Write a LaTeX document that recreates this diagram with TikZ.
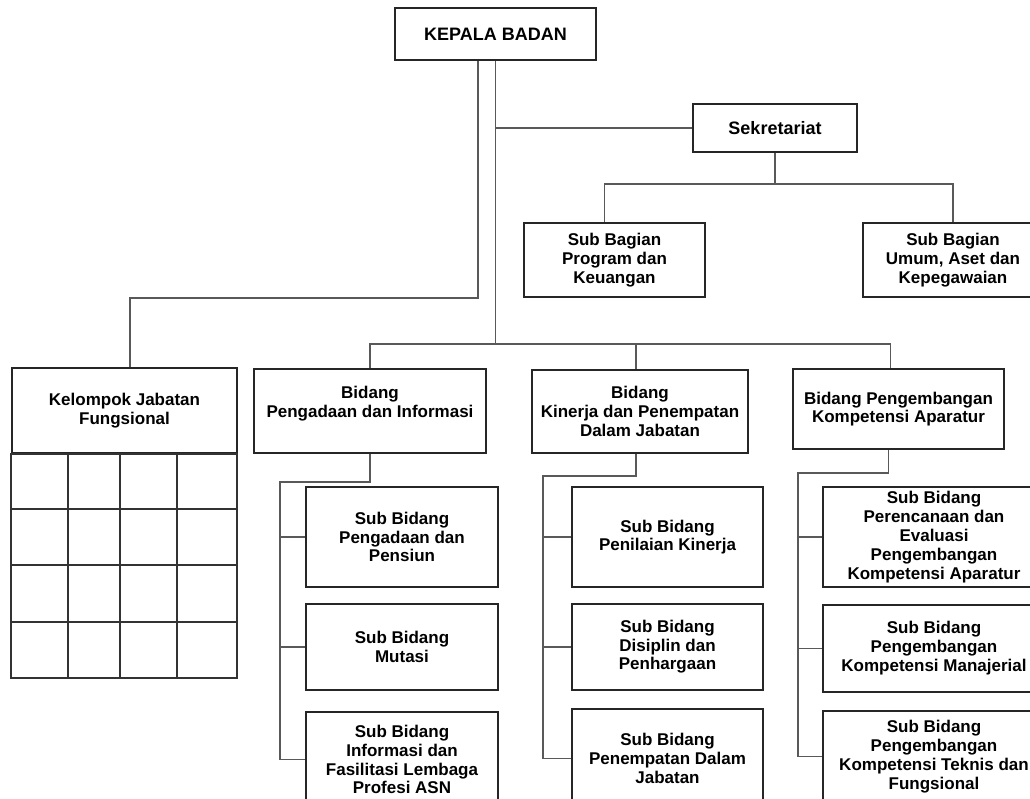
\documentclass[tikz,border=0pt]{standalone}
\usepackage{fontspec}
\setmainfont{Liberation Sans}
\usetikzlibrary{positioning}

\begin{document}
\begin{tikzpicture}[x=1pt,y=-1pt,node distance=16pt,
    org box/.style={draw=black!85,line width=1.8pt,align=center,inner sep=2pt,
      font=\fontsize{17}{18.8}\selectfont\bfseries},
    head box/.style={org box,font=\fontsize{18}{21}\selectfont\bfseries},
    sub box/.style={org box,minimum width=#1,minimum height=100pt},
    link/.style={draw=black!65,line width=1.4pt},
    grid line/.style={draw=black!80,line width=1.4pt}]

\useasboundingbox (0,0) rectangle (1030,798);
\clip (0,0) rectangle (1030,798);

\node[head box,minimum width=201pt,minimum height=52pt] (kepala) at (495.5,34) {KEPALA BADAN};
\node[head box,minimum width=164pt,minimum height=48pt] (sekre) at (775,128) {Sekretariat};
\node[org box,minimum width=181pt,minimum height=74pt] (subprog) at (614.5,260) {Sub Bagian\\Program dan\\Keuangan};
\node[org box,minimum width=180pt,minimum height=74pt] (subumum) at (953,260) {Sub Bagian\\Umum, Aset dan\\Kepegawaian};

\node[org box,minimum width=225pt,minimum height=85pt] (jab) at (124.5,410.5) {Kelompok Jabatan\\Fungsional};
\node[org box,minimum width=232pt,minimum height=84pt] (bid1) at (370,411) {Bidang\\Pengadaan dan Informasi\\\mbox{}};
\node[org box,minimum width=216pt,minimum height=83pt] (bid2) at (640,411.5) {Bidang\\Kinerja dan Penempatan\\Dalam Jabatan};
\node[org box,minimum width=211pt,minimum height=80pt] (bid3) at (898.5,409) {Bidang Pengembangan\\Kompetensi Aparatur};

\node[sub box=192pt] (sub11) at (402,537) {Sub Bidang\\Pengadaan dan\\Pensiun};
\node[sub box=192pt,minimum height=86pt] (sub12) [below=15pt of sub11] {Sub Bidang\\Mutasi};
\node[sub box=192pt,minimum height=96pt] (sub13) [below=20pt of sub12] {Sub Bidang\\Informasi dan\\Fasilitasi Lembaga\\Profesi ASN};

\node[sub box=191pt] (sub21) at (667.5,537) {Sub Bidang\\Penilaian Kinerja};
\node[sub box=191pt,minimum height=86pt] (sub22) [below=15pt of sub21] {Sub Bidang\\Disiplin dan\\Penhargaan};
\node[sub box=191pt] (sub23) [below=17pt of sub22] {Sub Bidang\\Penempatan Dalam\\Jabatan};

\node[sub box=222pt] (sub31) at (934,537) {Sub Bidang\\Perencanaan dan\\Evaluasi\\Pengembangan\\Kompetensi Aparatur};
\node[sub box=222pt,minimum height=87pt] (sub32) [below=16pt of sub31] {Sub Bidang\\Pengembangan\\Kompetensi Manajerial};
\node[sub box=222pt,minimum height=92pt] (sub33) [below=17pt of sub32] {Sub Bidang\\Pengembangan\\Kompetensi Teknis dan\\Fungsional};

\draw[grid line] (jab.south west) rectangle (237,678);
\foreach \x in {68,120,177}
  \draw[grid line] (\x,453) -- (\x,678);
\foreach \y in {509,565,622}
  \draw[grid line] (12,\y) -- (237,\y);

\draw[link] (kepala.south) -- ++(0,283) coordinate (bidbar);
\draw[link] ([xshift=-17.5pt]kepala.south) -- ++(0,237) -| ([xshift=5.5pt]jab.north);
\draw[link] (kepala.south |- sekre.west) -- (sekre.west);
\draw[link] (sekre.south) -- ++(0,31) coordinate (sbar);
\draw[link] ([xshift=-10pt]subprog.north) |- (sbar) -| (subumum.north);

\draw[link] (bid1.north) |- (bidbar) -| ([xshift=-8pt]bid3.north);
\draw[link] (bidbar) -| ([xshift=-4pt]bid2.north);

\draw[link] (bid1.south) -- ++(0,28) -| ([xshift=-25pt]sub13.west) -- (sub13.west);
\foreach \n in {sub11,sub12}
  \draw[link] (\n.west) -- ++(-25,0);
\draw[link] ([xshift=-4pt]bid2.south) -- ++(0,22) -| ([xshift=-28pt]sub23.west) -- (sub23.west);
\foreach \n in {sub21,sub22}
  \draw[link] (\n.west) -- ++(-28,0);
\draw[link] ([xshift=-10pt]bid3.south) -- ++(0,23) -| ([xshift=-24pt]sub33.west) -- (sub33.west);
\foreach \n in {sub31,sub32}
  \draw[link] (\n.west) -- ++(-24,0);
\end{tikzpicture}
\end{document}
